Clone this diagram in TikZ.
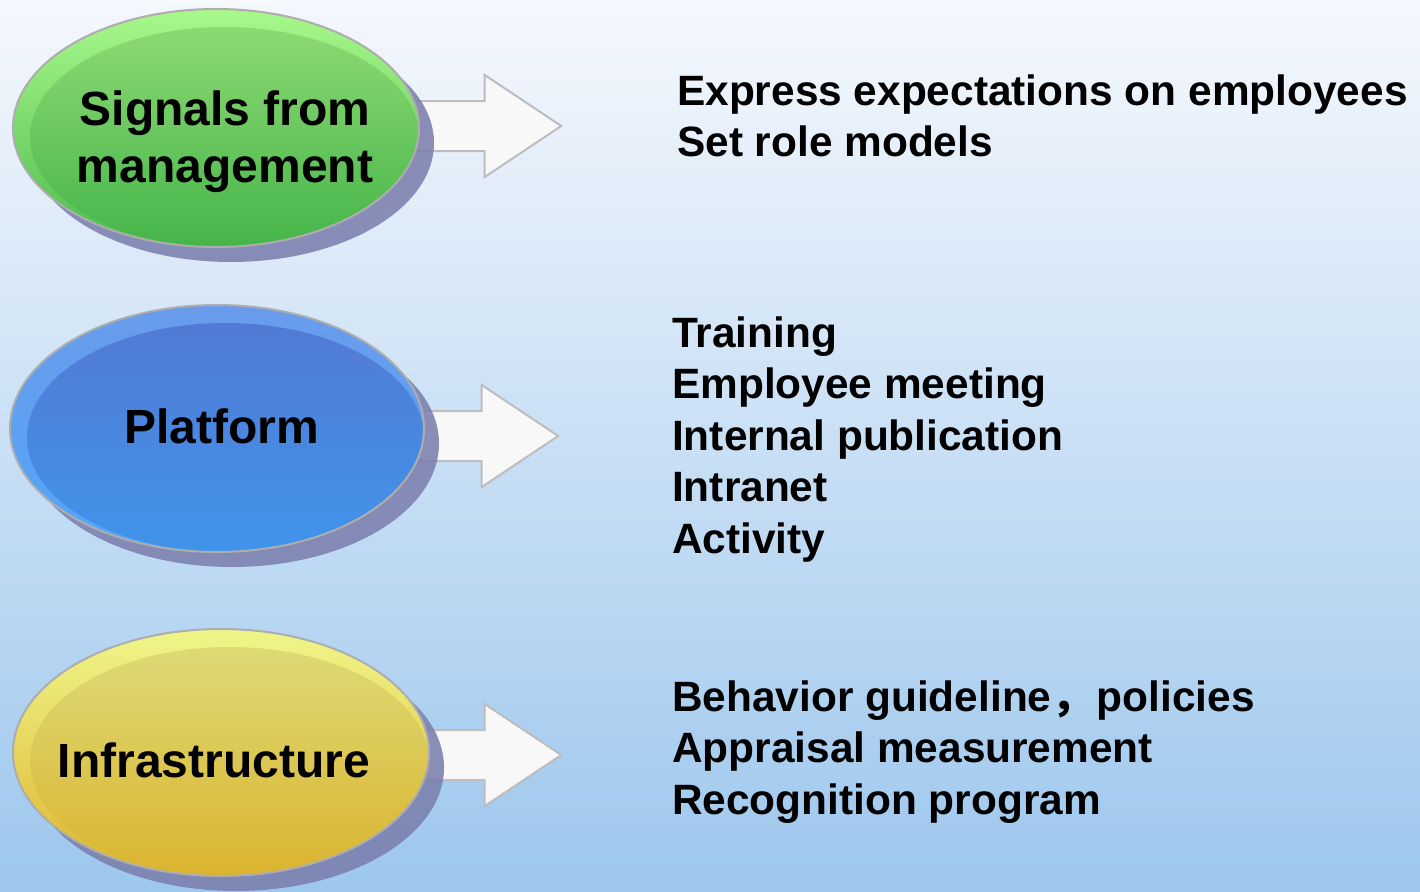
\documentclass[tikz,border=0pt]{standalone}
\usepackage{fontspec}
\setmainfont{Liberation Sans}
\newfontfamily\cjk{Noto Sans CJK SC}
\usetikzlibrary{shapes.geometric, shapes.arrows, shadows, calc, backgrounds, positioning}

\definecolor{bgtop}{HTML}{F5F8FD}
\definecolor{bgbot}{HTML}{9DC7ED}
\definecolor{sigtop}{HTML}{A9F88B}
\definecolor{sigbot}{HTML}{4CBC4C}
\definecolor{sigina}{HTML}{93DC76}
\definecolor{siginb}{HTML}{45B54A}
\definecolor{plattop}{HTML}{6A9BEB}
\definecolor{platbot}{HTML}{52A6FA}
\definecolor{platina}{HTML}{5478D3}
\definecolor{platinb}{HTML}{4094EB}
\definecolor{infratop}{HTML}{F0F68A}
\definecolor{infrabot}{HTML}{DCB52E}
\definecolor{infraina}{HTML}{DDDD7A}
\definecolor{infrainb}{HTML}{DBB430}
\definecolor{shadowc}{HTML}{7B80AE}
\definecolor{rimgray}{HTML}{ADADAD}
\definecolor{arrowfill}{HTML}{F8F8F8}
\definecolor{arrowline}{HTML}{BDBDBD}

\begin{document}
\begin{tikzpicture}[x=1pt, y=-1pt, node distance=11.2pt,
    oval/.style n args={4}{ellipse, draw=rimgray, line width=2pt, inner sep=0pt, top color=#1, bottom color=#2,
        general shadow={fill=shadowc, opacity=.88, shadow xshift=15pt, shadow yshift=-15pt},
        path picture={\shade[top color=#3, bottom color=#4]
            let \p1=(path picture bounding box.north east), \p2=(path picture bounding box.south west) in
            ([shift={(8.5pt,-9pt)}]path picture bounding box.center)
            ellipse [x radius={(\x1-\x2)/2-8.5pt}, y radius={(\y1-\y2)/2-9pt}];}},
    ovaltext/.style={inner sep=0pt, align=center, font=\fontsize{48}{57}\selectfont\bfseries},
    item/.style={inner sep=0pt, text height=31pt, text depth=9pt, font=\fontsize{42.4}{51}\selectfont\bfseries},
    barrow/.style={single arrow, draw=arrowline, fill=arrowfill, line width=2pt, minimum height=150pt,
        single arrow head extend=26pt, single arrow tip angle=67.4, inner xsep=0pt, inner ysep=24pt, anchor=tip}]

\node [oval={sigtop}{sigbot}{sigina}{siginb}, minimum width=406pt, minimum height=238pt] (sig) at (216,128) {};
\node [oval={plattop}{platbot}{platina}{platinb}, minimum width=414pt, minimum height=247pt] (plat) at (217,428.5) {};
\node [oval={infratop}{infrabot}{infraina}{infrainb}, minimum width=416pt, minimum height=247pt] (infra) at (221,752.5) {};

\node [ovaltext] (sig-t) at (225,142) {Signals from\\management};
\node [ovaltext] (plat-t) at (221.5,426) {Platform};
\node [ovaltext] (infra-t) at (214,760) {Infrastructure};

\node [item, anchor=west] (exp) at (677,94) {Express expectations on employees};
\node [item, below=of exp.south west, anchor=north west] (role) {Set role models};

\node [item, anchor=west] (train) at (672,336) {Training};
\node [item, below=of train.south west, anchor=north west] (meet) {Employee meeting};
\node [item, below=of meet.south west, anchor=north west] (pub) {Internal publication};
\node [item, below=of pub.south west, anchor=north west] (net) {Intranet};
\node [item, below=of net.south west, anchor=north west] (act) {Activity};

\node [item, anchor=west] (guide) at (672,700) {Behavior guideline{\cjk ，}\hspace{3pt}policies};
\node [item, below=of guide.south west, anchor=north west] (appr) {Appraisal measurement};
\node [item, below=of appr.south west, anchor=north west] (recog) {Recognition program};

\begin{scope}[on background layer]
\shade [top color=bgtop, bottom color=bgbot] (0,0) rectangle (1420,891);
\node [barrow] (sig-arr) at ([xshift=143pt, yshift=2pt]sig.east) {};
\node [barrow] (plat-arr) at ([xshift=135pt, yshift=-7.5pt]plat.east) {};
\node [barrow] (infra-arr) at ([xshift=133pt, yshift=-2.5pt]infra.east) {};
\end{scope}
\end{tikzpicture}
\end{document}
